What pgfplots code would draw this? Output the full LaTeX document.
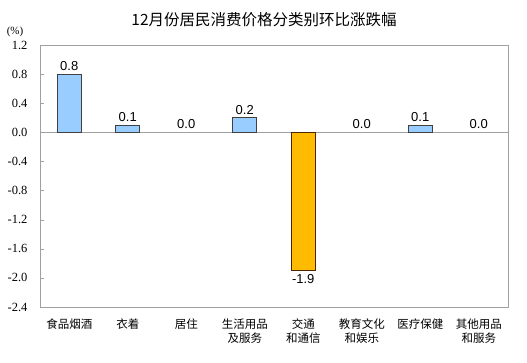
\documentclass[border=0pt]{standalone}
\usepackage{pgfplots}
\pgfplotsset{compat=1.18}
\usepackage{fontspec}
\setmainfont{Liberation Serif}
\newfontfamily\cjk{Noto Sans CJK SC}
\newfontfamily\arial{Liberation Sans}
\newfontfamily\tnr{Liberation Serif}
\definecolor{barblue}{HTML}{99CCFF}
\definecolor{barorange}{HTML}{FFBB00}
\definecolor{axgray}{HTML}{A0A0A0}
\begin{document}
\begin{tikzpicture}[x=1bp,y=1bp]
\useasboundingbox (0,0) rectangle (527,362);
\node[font=\cjk\fontsize{15.5bp}{17bp}\selectfont] at (264,342) {12月份居民消费价格分类别环比涨跌幅};
\node[font=\tnr\fontsize{11bp}{12bp}\selectfont] at (15,330) {(\%)};
\begin{axis}[
  at={(40bp,55bp)}, anchor=south west,
  scale only axis, width=468bp, height=262bp,
  xmin=-0.5, xmax=7.5, ymin=-2.4, ymax=1.2,
  ytick={-2.4,-2.0,-1.6,-1.2,-0.8,-0.4,0,0.4,0.8,1.2},
  yticklabel={\tnr\pgfmathprintnumber[fixed,fixed zerofill,precision=1,assume math mode=true]{\tick}},
  yticklabel style={font=\tnr\fontsize{12.5bp}{14bp}\selectfont, xshift=-9bp},
  xtick={0,...,7},
  xticklabels={食品烟酒,衣着,居住,生活用品\\及服务,交通\\和通信,教育文化\\和娱乐,医疗保健,其他用品\\和服务},
  xticklabel style={font=\cjk\fontsize{11.5bp}{14bp}\selectfont, align=center, anchor=north, yshift=-4bp},
  x tick style={draw=none},
  ytick pos=left, tick align=inside, major tick length=4bp,
  y tick style={axgray},
  axis line style={axgray, line width=0.9bp},
  ybar, bar width=24bp, bar shift=0pt,
  nodes near coords={\pgfmathprintnumber[fixed,fixed zerofill,precision=1,assume math mode=true]{\pgfplotspointmeta}},
  nodes near coords style={font=\arial\fontsize{13bp}{14bp}\selectfont},
  extra y ticks={0}, extra y tick labels={},
  extra y tick style={grid=major, major grid style={axgray, line width=1.2bp}, tick style={draw=none}},
  clip=false,
]
\addplot[fill=barblue, draw=black!75, line width=0.6bp] coordinates {(0,0.8) (1,0.1) (3,0.2) (6,0.1)};
\addplot[fill=barorange, draw=black!70!orange, line width=0.6bp] coordinates {(4,-1.9)};
\addplot[fill=none, draw=none] coordinates {(2,0.0) (5,0.0) (7,0.0)};
\end{axis}
\end{tikzpicture}
\end{document}
